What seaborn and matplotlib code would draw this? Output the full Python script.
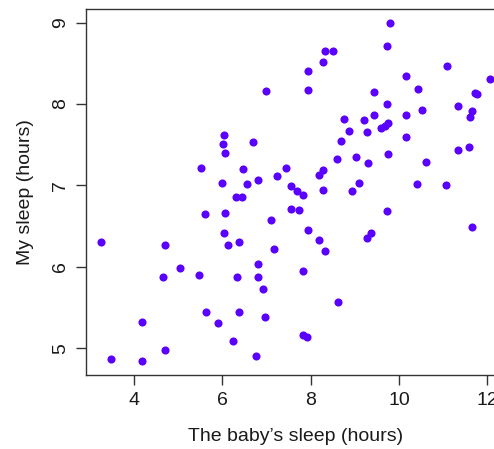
import pandas as pd
import matplotlib
matplotlib.use("Agg")
import matplotlib.pyplot as plt
import seaborn as sns

# Values
baby_sleep = [6.99, 6.03, 6.01, 6.06, 6.69, 5.51, 6.46, 5.98, 6.56, 6.80,
              7.24, 7.45, 7.56, 6.31, 6.44, 9.80, 9.73, 8.33, 8.51, 8.29,
              7.95, 7.95, 11.10, 12.06, 10.15, 10.44, 9.43, 11.73, 11.77, 9.73,
              11.34, 10.52, 11.65, 11.60, 8.75, 9.20, 9.43, 10.17, 8.88, 9.28,
              9.59, 9.68, 9.76, 8.68, 10.17, 8.59, 9.02, 9.31, 9.76, 10.62,
              11.34, 11.59, 7.69, 7.82, 8.28, 8.20, 8.29, 8.94, 9.10, 10.41,
              11.06, 5.60, 6.05, 7.09, 7.56, 7.73, 3.26, 4.71, 6.03, 6.13,
              6.38, 7.18, 5.04, 4.66, 5.47, 6.32, 6.80, 6.80, 6.91, 4.17,
              5.63, 5.89, 6.38, 6.97, 6.25, 4.71, 3.47, 4.18, 6.75, 9.74,
              11.66, 7.93, 8.19, 8.32, 9.37, 9.27, 7.83, 8.62, 7.83, 7.92]
my_sleep = [8.16, 7.62, 7.51, 7.40, 7.53, 7.21, 7.20, 7.03, 7.02, 7.07,
            7.11, 7.21, 6.99, 6.86, 6.86, 9.00, 8.71, 8.65, 8.65, 8.51,
            8.40, 8.17, 8.47, 8.31, 8.34, 8.19, 8.15, 8.14, 8.12, 8.00,
            7.98, 7.92, 7.91, 7.84, 7.82, 7.80, 7.86, 7.86, 7.67, 7.66,
            7.71, 7.73, 7.77, 7.55, 7.59, 7.32, 7.35, 7.27, 7.38, 7.29,
            7.43, 7.47, 6.93, 6.88, 7.19, 7.13, 6.94, 6.93, 7.03, 7.02,
            7.01, 6.65, 6.66, 6.58, 6.71, 6.70, 6.31, 6.27, 6.41, 6.27,
            6.30, 6.22, 5.99, 5.87, 5.90, 5.87, 6.03, 5.88, 5.73, 5.32,
            5.44, 5.31, 5.45, 5.38, 5.09, 4.98, 4.87, 4.84, 4.91, 6.68,
            6.49, 6.45, 6.33, 6.19, 6.41, 6.35, 5.95, 5.57, 5.16, 5.14]
x_ticks = [4, 6, 8, 10, 12]
y_ticks = [5, 6, 7, 8, 9]

df = pd.DataFrame({"baby": baby_sleep, "dan": my_sleep})

sns.set_style("white")
plt.rcParams['font.family'] = ['Liberation Sans', 'DejaVu Sans']

fig = plt.figure(figsize=(4.94, 4.49), dpi=100)
# plot region runs past the right edge, as in the reference crop
ax = fig.add_axes([0.174, 0.165, 0.849, 0.815])
sns.scatterplot(data=df, x="baby", y="dan", ax=ax, color="#5a00ff",
                s=34, linewidth=0, legend=False)

# R-style 4% padding
xr = max(baby_sleep) - min(baby_sleep)
yr = max(my_sleep) - min(my_sleep)
ax.set_xlim(min(baby_sleep) - 0.04 * xr, max(baby_sleep) + 0.04 * xr)
ax.set_ylim(min(my_sleep) - 0.04 * yr, max(my_sleep) + 0.04 * yr)

ax.set_xticks(x_ticks)
ax.set_yticks(y_ticks)
ax.tick_params(direction="out", length=7.2, width=1, color="#333333",
               labelsize=14, labelcolor="#1a1a1a", pad=5,
               bottom=True, left=True)
for lab in ax.get_yticklabels():
    lab.set_rotation(90)
    lab.set_va("center")
for sp in ax.spines.values():
    sp.set_color("#333333")
    sp.set_linewidth(1)

ax.set_xlabel("The baby\u2019s sleep (hours)", fontsize=14, labelpad=14,
              color="#1a1a1a")
ax.set_ylabel("My sleep (hours)", fontsize=14, labelpad=13, color="#1a1a1a")

fig.savefig("out.png", dpi=100)
